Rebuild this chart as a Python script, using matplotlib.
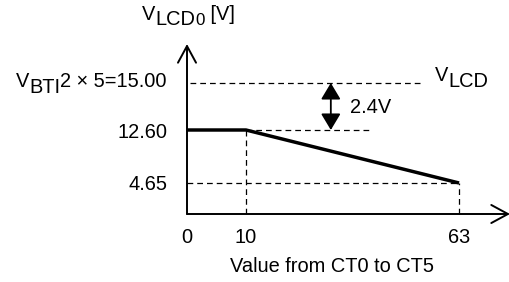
import numpy as np
import matplotlib
matplotlib.use("Agg")
import matplotlib.pyplot as plt
from matplotlib.scale import FuncScale

plt.rcParams['font.family'] = ['Liberation Sans', 'DejaVu Sans']

# ---- data ----
ct_values = [0, 10, 63]
vlcd_values = [12.60, 12.60, 4.65]
vlcd_max = 15.00
step_label = "2.4V"
ytick_values = [4.65, 12.60]
ytick_labels = ["4.65", "12.60"]
max_label_parts = [("V", 0), ("BTI", -6), ("2", 0), (" \u00d7 5=15.00", 0)]
xtick_values = [0, 10, 63]
xtick_labels = ["0", "10", "63"]
xlabel = "Value from CT0 to CT5"
ylabel_parts = [("V", 0), ("LCD", -5), ("0", -5, 0.85), (" [V]", 0)]
vlcd_parts = [("V", 0), ("LCD", -6)]

# ---- schematic (non-linear) scales ----
def xf(x):
    x = np.asarray(x, float)
    return np.where(x <= 10, x * 5.9, 59 + (x - 10) * 4.02)

def xi(p):
    p = np.asarray(p, float)
    return np.where(p <= 59, p / 5.9, 10 + (p - 59) / 4.02)

yk = [-100, 0, 4.65, 12.6, 15, 100]
yp = [-667, 0, 31, 84, 131, 131 + 85 * 19.6]

def yf(y):
    return np.interp(np.asarray(y, float), yk, yp)

def yi(p):
    return np.interp(np.asarray(p, float), yp, yk)

W, H = 510, 282
fig = plt.figure(figsize=(W / 100, H / 100), dpi=100)
ax = fig.add_axes([187 / W, 68 / H, 323 / W, 170 / H])
ax.set_xscale(FuncScale(ax.xaxis, (xf, xi)))
ax.set_yscale(FuncScale(ax.yaxis, (yf, yi)))
ax.set_xlim(0, float(xi(323)))
ax.set_ylim(0, float(yi(170)))
for s in ax.spines.values():
    s.set_visible(False)

fs = 14.4
dash = (0, (4.6, 3.2))
dkw = dict(color='black', lw=0.9, linestyle=dash, clip_on=False)

# dashed guides
ax.plot([0.5, 53.3], [vlcd_max, vlcd_max], **dkw)
ax.plot([ct_values[1], 40.8], [vlcd_values[1], vlcd_values[1]], **dkw)
ax.plot([0, ct_values[2]], [vlcd_values[2], vlcd_values[2]], **dkw)
ax.plot([ct_values[1], ct_values[1]], [0, vlcd_values[1]], **dkw)
ax.plot([ct_values[2], ct_values[2]], [0, vlcd_values[2]], **dkw)

# main line
ax.plot(ct_values, vlcd_values, color='black', lw=2.5, solid_capstyle='butt', clip_on=False)

# axes arrows
akw = dict(arrowstyle='->,head_length=12,head_width=6.5', lw=1.4, color='black',
           shrinkA=0, shrinkB=0, mutation_scale=1)
ax.annotate('', xy=(1, 0), xytext=(0, 0), xycoords='axes fraction', arrowprops=akw)
ax.annotate('', xy=(0, 1), xytext=(0, 0), xycoords='axes fraction', arrowprops=akw)

# 2.4V double arrow
ax.annotate('', xy=(31.1, vlcd_max), xytext=(31.1, vlcd_values[0]),
            arrowprops=dict(arrowstyle='<|-|>,head_length=10,head_width=6', lw=1.3,
                            color='black', shrinkA=0, shrinkB=0, mutation_scale=1))
ax.text(35.9, 13.77, step_label, fontsize=fs, va='center', ha='left')

ax.set_xticks(xtick_values)
ax.set_xticklabels(xtick_labels, fontsize=fs)
ax.set_yticks(ytick_values)
ax.set_yticklabels(ytick_labels, fontsize=fs)
ax.tick_params(axis='both', length=0)
ax.tick_params(axis='x', pad=10)
ax.tick_params(axis='y', pad=14)

renderer = fig.canvas.get_renderer()


def rich(x_px, base_px, parts, ha='left'):
    """Draw text pieces; x_px, base_px in pixels from top-left; base = baseline."""
    texts = []
    widths = []
    for p in parts:
        s, dy = p[0], p[1]
        scale = p[2] if len(p) > 2 else 1.0
        t = fig.text(0, 0, s, fontsize=fs * scale, va='baseline', ha='left')
        widths.append(t.get_window_extent(renderer).width)
        texts.append((t, dy))
    total = sum(widths)
    x = x_px - total if ha == 'right' else x_px
    for (t, dy), w in zip(texts, widths):
        t.set_position((x / W, 1 - (base_px - dy) / H))
        x += w


rich(142, 20, ylabel_parts)
rich(435, 81, vlcd_parts)
rich(167, 87, max_label_parts, ha='right')

fig.text(332 / W, 1 - 267 / H, xlabel, fontsize=fs, ha='center', va='center')

fig.savefig('out.png', dpi=100)
